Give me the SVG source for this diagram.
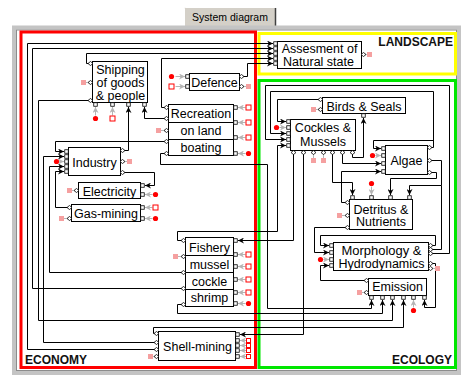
<svg xmlns="http://www.w3.org/2000/svg" width="462" height="375" viewBox="0 0 462 375">
<style>
.t{font-family:"Liberation Sans",Arial,sans-serif;font-size:12.5px;fill:#000;text-anchor:middle}
.lb{font-family:"Liberation Sans",Arial,sans-serif;font-size:12px;font-weight:bold;fill:#111}
.box{fill:#fff;stroke:#000;stroke-width:1}
.c{fill:none;stroke:#000;stroke-width:1;marker-end:url(#a)}
.cn{fill:none;stroke:#000;stroke-width:1}
.g{fill:none;stroke:#b4b4b4;stroke-width:1;marker-end:url(#ga)}
</style>
<defs>
<marker id="a" viewBox="0 0 6 6" refX="6" refY="3" markerWidth="6" markerHeight="6" orient="auto" markerUnits="userSpaceOnUse"><path d="M0,0 L6,3 L0,6 L1.8,3Z" fill="#000"/></marker>
<marker id="ga" viewBox="0 0 6 6" refX="6" refY="3" markerWidth="6" markerHeight="6" orient="auto" markerUnits="userSpaceOnUse"><path d="M0,0 L6,3 L0,6 L1.8,3Z" fill="#b4b4b4"/></marker>
<rect id="ip" x="-1.75" y="-1.75" width="3.5" height="3.5" fill="#fff" stroke="#000" stroke-width="0.8"/>
<path id="op" d="M-2.5,0 L0,-2 L2.5,0 L0,2Z" fill="#fff" stroke="#000" stroke-width="0.8"/>
<circle id="rd" r="2.6" fill="#f00"/>
<rect id="rs" x="-2.5" y="-2.5" width="5" height="5" fill="#fff" stroke="#f00" stroke-width="1"/>
<rect id="rs4" x="-2" y="-2" width="4" height="4" fill="#fff" stroke="#f00" stroke-width="1"/>
<rect id="pk" x="-2.5" y="-2.5" width="5" height="5" fill="#f5a0a0"/>
</defs>

<rect width="462" height="375" fill="#fff"/>
<!-- tab -->
<g id="tab">
<path d="M184.5,27.5 V8.5 Q184.5,7.5 185.5,7.5 H275.5 V27.5" fill="#d4d0c8" stroke="#fff" stroke-width="1"/>
<line x1="275.5" y1="8" x2="275.5" y2="27" stroke="#404040" stroke-width="1.5"/>
<text x="230" y="21" style="font-family:'Liberation Sans',Arial,sans-serif;font-size:10.5px;fill:#000;text-anchor:middle">System diagram</text>
</g>
<!-- panel frame -->
<rect x="14" y="27.5" width="445" height="345.5" fill="#fff" stroke="#c4c4c4" stroke-width="4"/>
<rect x="16.5" y="30" width="440" height="340.5" fill="none" stroke="#8c8c8c" stroke-width="1"/>

<!-- region frames -->
<g id="regions">
<rect x="21" y="32" width="234.5" height="335.5" fill="none" stroke="#ff0000" stroke-width="3"/>
<rect x="259" y="33.5" width="196.5" height="40.5" fill="none" stroke="#ffff00" stroke-width="3"/>
<rect x="259" y="80.5" width="196.5" height="287" fill="none" stroke="#00e600" stroke-width="3"/>
<text class="lb" x="453" y="46" text-anchor="end">LANDSCAPE</text>
<text class="lb" x="25" y="363.5">ECONOMY</text>
<text class="lb" x="452" y="363.5" text-anchor="end">ECOLOGY</text>
</g>

<g transform="translate(0.5,0.5)">
<g id="connectors">
<polyline class="c" points="156,349 27,349 27,43 272.5,43"/>
<polyline class="c" points="183,288 32,288 32,48 272.5,48"/>
<polyline class="c" points="90,63 86,63 86,53 272.5,53"/>
<polyline class="c" points="166,107 161,107 161,58 272.5,58"/>
<polyline class="c" points="241,76 247,76 247,63 272.5,63"/>
<polyline class="c" points="166,118 144,118 144,106.5"/>
<polyline class="c" points="122,150 128,150 128,106.5"/>
<polyline class="c" points="166,141 55,141 55,151 63.5,151"/>
<polyline class="c" points="156,342 43,342 43,156 63.5,156"/>
<polyline class="c" points="183,272 49,272 49,166 63.5,166"/>
<polyline class="c" points="69,207 55,207 55,171 63.5,171"/>
<polyline class="c" points="122,172 154,172 154,185 144.5,185"/>
<polyline class="c" points="90,100 38,100 38,320 392,320 392,299.5"/>
<polyline class="c" points="166,153 160,153 160,164 267,164 267,308 371,308 371,299.5"/>
<polyline class="c" points="183,304 177,304 177,313 382,313 382,299.5"/>
<polyline class="c" points="156,333 153,333 153,327 403,327 403,299.5"/>
<polyline class="c" points="183,240 177,240 177,231 277,231 277,145 285.5,145"/>
<polyline class="c" points="293,152 293,240 237.5,240"/>
<polyline class="c" points="303,152 303,334 239.5,334"/>
<polyline class="c" points="320,99 277,99 277,121 285.5,121"/>
<polyline class="c" points="429,147 433,147 433,91 270,91 270,133 285.5,133"/>
<polyline class="c" points="430,253 449,253 449,85 265,85 265,139 285.5,139"/>
<polyline class="c" points="433,140 373,140 373,148 380.5,148"/>
<polyline class="c" points="342,152 342,163 380.5,163"/>
<polyline class="c" points="347,202 341,202 341,171 380.5,171"/>
<polyline class="c" points="352,152 352,157 363,157 363,117.5"/>
<polyline class="c" points="332,152 332,182 352,182 352,194.5"/>
<polyline class="c" points="429,172 436,172 436,178 390,178 390,194.5"/>
<polyline class="c" points="429,160 441,160 441,185 409,185 409,194.5"/>
<polyline class="cn" points="430,249 441,249 441,185"/>
<polyline class="c" points="430,245 435,245 435,235 320,235 320,245 328.5,245"/>
<polyline class="c" points="347,227 314,227 314,252 328.5,252"/>
<polyline class="c" points="366,280 320,280 320,265 328.5,265"/>
<polyline class="c" points="430,263 435,263 435,307 424,307 424,299.5"/>
<!-- external inputs (gray arrows) -->
<line class="g" x1="175" y1="76" x2="184.5" y2="76"/>
<line class="g" x1="175" y1="86" x2="184.5" y2="86"/>
<line class="g" x1="95" y1="115" x2="95" y2="106.5"/>
<line class="g" x1="112" y1="115" x2="112" y2="106.5"/>
<line class="g" x1="245" y1="107" x2="237.5" y2="107"/>
<line class="g" x1="245" y1="122" x2="237.5" y2="122"/>
<line class="g" x1="245" y1="137" x2="237.5" y2="137"/>
<line class="g" x1="245" y1="153" x2="237.5" y2="153"/>
<line class="g" x1="59" y1="161" x2="63.5" y2="161"/>
<line class="g" x1="152" y1="194" x2="144.5" y2="194"/>
<line class="g" x1="152" y1="207" x2="144.5" y2="207"/>
<line class="g" x1="152" y1="218" x2="144.5" y2="218"/>
<line class="g" x1="245" y1="254" x2="237.5" y2="254"/>
<line class="g" x1="245" y1="266" x2="237.5" y2="266"/>
<line class="g" x1="245" y1="279" x2="237.5" y2="279"/>
<line class="g" x1="245" y1="292" x2="237.5" y2="292"/>
<line class="g" x1="245" y1="303" x2="237.5" y2="303"/>
<line class="g" x1="245.5" y1="340" x2="239.5" y2="340"/>
<line class="g" x1="245.5" y1="345" x2="239.5" y2="345"/>
<line class="g" x1="245.5" y1="350" x2="239.5" y2="350"/>
<line class="g" x1="245.5" y1="356" x2="239.5" y2="356"/>
<line class="g" x1="279" y1="127" x2="285.5" y2="127"/>
<line class="g" x1="375" y1="155" x2="380.5" y2="155"/>
<line class="g" x1="371" y1="186" x2="371" y2="194.5"/>
<line class="g" x1="323" y1="259" x2="328.5" y2="259"/>
<line class="g" x1="413" y1="307" x2="413" y2="299.5"/>
<!-- outputs to outside (gray stubs) -->
<line x1="363" y1="54" x2="368" y2="54" stroke="#b4b4b4"/>
<line x1="241" y1="86" x2="247" y2="86" stroke="#b4b4b4"/>
<line x1="84" y1="82" x2="90" y2="82" stroke="#b4b4b4"/>
<line x1="159" y1="130" x2="166" y2="130" stroke="#b4b4b4"/>
<line x1="122" y1="161" x2="128" y2="161" stroke="#b4b4b4"/>
<line x1="70" y1="190" x2="76" y2="190" stroke="#b4b4b4"/>
<line x1="62" y1="218" x2="69" y2="218" stroke="#b4b4b4"/>
<line x1="176" y1="256" x2="183" y2="256" stroke="#b4b4b4"/>
<line x1="151" y1="356" x2="156" y2="356" stroke="#b4b4b4"/>
<line x1="314" y1="109" x2="320" y2="109" stroke="#b4b4b4"/>
<line x1="313" y1="152" x2="313" y2="159" stroke="#b4b4b4"/>
<line x1="323" y1="152" x2="323" y2="159" stroke="#b4b4b4"/>
<line x1="340" y1="215" x2="347" y2="215" stroke="#b4b4b4"/>
<line x1="430" y1="268" x2="436" y2="268" stroke="#b4b4b4"/>
<line x1="360" y1="292" x2="366" y2="292" stroke="#b4b4b4"/>
</g>

<g id="assesment">
<rect class="box" x="277" y="41" width="84" height="27"/>
<use href="#ip" x="275" y="43"/><use href="#ip" x="275" y="48"/><use href="#ip" x="275" y="53"/><use href="#ip" x="275" y="58"/><use href="#ip" x="275" y="63"/>
<use href="#op" x="363" y="54"/><use href="#pk" x="369" y="54"/>
<text class="t" x="319" y="52.5">Assesment of</text>
<text class="t" x="318" y="65.5">Natural state</text>
</g>

<g id="defence">
<rect class="box" x="189" y="73" width="50" height="17"/>
<use href="#ip" x="187" y="76"/><use href="#ip" x="187" y="86"/>
<use href="#rd" x="171" y="76"/><use href="#rs" x="171" y="86"/>
<use href="#op" x="241" y="76"/><use href="#op" x="241" y="86"/><use href="#pk" x="248" y="86"/>
<text class="t" x="214" y="86">Defence</text>
</g>

<g id="shipping">
<rect class="box" x="92" y="61" width="55" height="41"/>
<use href="#op" x="90" y="63"/><use href="#op" x="90" y="82"/><use href="#op" x="90" y="100"/>
<use href="#pk" x="83" y="82"/>
<use href="#ip" x="95" y="104"/><use href="#ip" x="112" y="104"/><use href="#ip" x="128" y="104"/><use href="#ip" x="144" y="104"/>
<use href="#rd" x="95" y="118"/><use href="#rs" x="112" y="118"/>
<text class="t" x="120" y="73.5">Shipping</text>
<text class="t" x="120" y="86.5">of goods</text>
<text class="t" x="120" y="99.5">&amp; people</text>
</g>

<g id="recreation">
<rect class="box" x="168" y="104" width="65" height="18"/>
<rect class="box" x="168" y="122" width="65" height="17"/>
<rect class="box" x="168" y="139" width="65" height="16"/>
<use href="#op" x="166" y="107"/><use href="#op" x="166" y="118"/><use href="#op" x="166" y="130"/><use href="#op" x="166" y="141"/><use href="#op" x="166" y="153"/>
<use href="#pk" x="158" y="130"/>
<use href="#ip" x="235" y="107"/><use href="#ip" x="235" y="122"/><use href="#ip" x="235" y="137"/><use href="#ip" x="235" y="153"/>
<use href="#rs" x="248" y="107"/><use href="#rs" x="248" y="122"/><use href="#rs" x="248" y="137"/><use href="#rd" x="248" y="153"/>
<text class="t" x="200.5" y="117.5">Recreation</text>
<text class="t" x="200.5" y="134.5">on land</text>
<text class="t" x="200.5" y="151">boating</text>
</g>

<g id="industry">
<rect class="box" x="68" y="147" width="52" height="28"/>
<use href="#ip" x="66" y="151"/><use href="#ip" x="66" y="156"/><use href="#ip" x="66" y="161"/><use href="#ip" x="66" y="166"/><use href="#ip" x="66" y="171"/>
<use href="#rd" x="56" y="161"/>
<use href="#op" x="122" y="150"/><use href="#op" x="122" y="161"/><use href="#op" x="122" y="172"/>
<use href="#pk" x="129" y="161"/>
<text class="t" x="94" y="166">Industry</text>
</g>

<g id="electricity">
<rect class="box" x="78" y="182" width="62" height="16"/>
<use href="#op" x="76" y="190"/><use href="#pk" x="69" y="190"/>
<use href="#ip" x="142" y="185"/><use href="#ip" x="142" y="194"/>
<use href="#rd" x="155" y="194"/>
<text class="t" x="109" y="195">Electricity</text>
</g>

<g id="gasmining">
<rect class="box" x="71" y="204" width="69" height="17"/>
<use href="#op" x="69" y="207"/><use href="#op" x="69" y="218"/><use href="#pk" x="61" y="218"/>
<use href="#ip" x="142" y="207"/><use href="#ip" x="142" y="218"/>
<use href="#rs" x="155" y="207"/><use href="#rd" x="155" y="218"/>
<text class="t" x="105.5" y="217.5">Gas-mining</text>
</g>

<g id="fishery">
<rect class="box" x="185" y="237" width="48" height="18"/>
<rect class="box" x="185" y="255" width="48" height="17"/>
<rect class="box" x="185" y="272" width="48" height="17"/>
<rect class="box" x="185" y="289" width="48" height="17"/>
<use href="#op" x="183" y="240"/><use href="#op" x="183" y="256"/><use href="#op" x="183" y="272"/><use href="#op" x="183" y="288"/><use href="#op" x="183" y="304"/>
<use href="#pk" x="175" y="256"/>
<use href="#ip" x="235" y="240"/><use href="#ip" x="235" y="254"/><use href="#ip" x="235" y="266"/><use href="#ip" x="235" y="279"/><use href="#ip" x="235" y="292"/><use href="#ip" x="235" y="303"/>
<use href="#rs" x="248" y="254"/><use href="#rs" x="248" y="266"/><use href="#rs" x="248" y="279"/><use href="#rs" x="248" y="292"/><use href="#rd" x="248" y="303"/>
<text class="t" x="209" y="251">Fishery</text>
<text class="t" x="209" y="268">mussel</text>
<text class="t" x="209" y="285.5">cockle</text>
<text class="t" x="209" y="301">shrimp</text>
</g>

<g id="shellmining">
<rect class="box" x="158" y="331" width="77" height="29"/>
<use href="#op" x="156" y="333"/><use href="#op" x="156" y="342"/><use href="#op" x="156" y="349"/><use href="#op" x="156" y="356"/>
<use href="#pk" x="150" y="356"/>
<use href="#ip" x="237" y="334"/><use href="#ip" x="237" y="340"/><use href="#ip" x="237" y="345"/><use href="#ip" x="237" y="350"/><use href="#ip" x="237" y="356"/>
<use href="#rs4" x="248" y="340"/><use href="#rs4" x="248" y="345"/><use href="#rs4" x="248" y="350"/><use href="#rs4" x="248" y="356"/>
<text class="t" x="197" y="350.5">Shell-mining</text>
</g>

<g id="birds">
<rect class="box" x="322" y="97" width="83" height="16"/>
<use href="#op" x="320" y="99"/><use href="#op" x="320" y="109"/><use href="#pk" x="313" y="109"/>
<use href="#ip" x="363" y="115"/>
<text class="t" x="363.5" y="110">Birds &amp; Seals</text>
</g>

<g id="cockles">
<rect class="box" x="290" y="119" width="65" height="31"/>
<use href="#ip" x="288" y="121"/><use href="#ip" x="288" y="127"/><use href="#ip" x="288" y="133"/><use href="#ip" x="288" y="139"/><use href="#ip" x="288" y="145"/>
<use href="#rd" x="276" y="127"/>
<use href="#op" x="293" y="152"/><use href="#op" x="303" y="152"/><use href="#op" x="313" y="152"/><use href="#op" x="323" y="152"/><use href="#op" x="332" y="152"/><use href="#op" x="342" y="152"/><use href="#op" x="352" y="152"/>
<use href="#pk" x="313" y="160"/><use href="#pk" x="323" y="160"/>
<text class="t" x="322.5" y="131.5">Cockles &amp;</text>
<text class="t" x="322.5" y="145">Mussels</text>
</g>

<g id="algae">
<rect class="box" x="385" y="145" width="42" height="29"/>
<use href="#ip" x="383" y="148"/><use href="#ip" x="383" y="155"/><use href="#ip" x="383" y="163"/><use href="#ip" x="383" y="171"/>
<use href="#rd" x="372" y="155"/>
<use href="#op" x="429" y="147"/><use href="#op" x="429" y="160"/><use href="#op" x="429" y="172"/>
<text class="t" x="406" y="164">Algae</text>
</g>

<g id="detritus">
<rect class="box" x="349" y="199" width="63" height="30"/>
<use href="#ip" x="352" y="197"/><use href="#ip" x="371" y="197"/><use href="#ip" x="390" y="197"/><use href="#ip" x="409" y="197"/>
<use href="#rd" x="371" y="183"/>
<use href="#op" x="347" y="202"/><use href="#op" x="347" y="215"/><use href="#op" x="347" y="227"/>
<use href="#pk" x="339" y="215"/>
<text class="t" x="380.5" y="213">Detritus &amp;</text>
<text class="t" x="380.5" y="225.5">Nutrients</text>
</g>

<g id="morphology">
<rect class="box" x="333" y="242" width="95" height="28"/>
<use href="#ip" x="331" y="245"/><use href="#ip" x="331" y="252"/><use href="#ip" x="331" y="259"/><use href="#ip" x="331" y="265"/>
<use href="#rd" x="320" y="259"/>
<use href="#op" x="430" y="245"/><use href="#op" x="430" y="249"/><use href="#op" x="430" y="253"/><use href="#op" x="430" y="263"/><use href="#op" x="430" y="268"/>
<use href="#pk" x="437" y="268"/>
<text class="t" x="381" y="254.5" textLength="80" lengthAdjust="spacingAndGlyphs">Morphology &amp;</text>
<text class="t" x="381" y="267">Hydrodynamics</text>
</g>

<g id="emission">
<rect class="box" x="368" y="278" width="58" height="17"/>
<use href="#op" x="366" y="280"/><use href="#op" x="366" y="292"/><use href="#pk" x="359" y="292"/>
<use href="#ip" x="371" y="297"/><use href="#ip" x="382" y="297"/><use href="#ip" x="392" y="297"/><use href="#ip" x="403" y="297"/><use href="#ip" x="413" y="297"/><use href="#ip" x="424" y="297"/>
<use href="#rd" x="413" y="310"/>
<text class="t" x="397" y="290.5">Emission</text>
</g>
</g>
</svg>
